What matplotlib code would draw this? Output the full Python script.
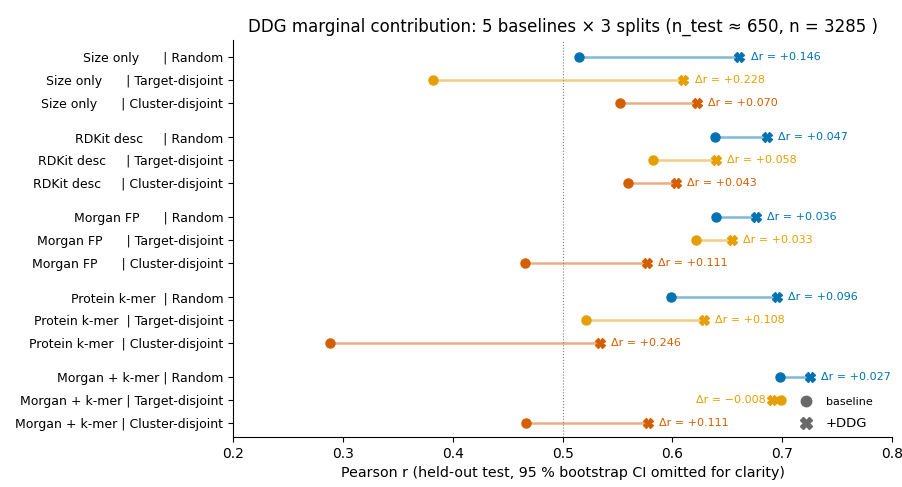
import numpy as np
import matplotlib.pyplot as plt

# Pearson r per baseline feature set and split, without and with DDG
baselines = ['Size only', 'RDKit desc', 'Morgan FP', 'Protein k-mer', 'Morgan + k-mer']
splits = ['Random', 'Target-disjoint', 'Cluster-disjoint']
r_base = [
    [0.515, 0.382, 0.552],
    [0.639, 0.582, 0.560],
    [0.640, 0.621, 0.466],
    [0.599, 0.521, 0.288],
    [0.698, 0.699, 0.467],
]
r_ddg = [
    [0.661, 0.610, 0.622],
    [0.686, 0.640, 0.603],
    [0.676, 0.654, 0.577],
    [0.695, 0.629, 0.534],
    [0.725, 0.691, 0.578],
]
split_colors = ['#0072B2', '#E69F00', '#D55E00']

fig = plt.figure(figsize=(9.03, 4.87), dpi=100)
ax = fig.add_axes([0.258, 0.103, 0.73, 0.815])

yticks = []
ylabels = []
for g, name in enumerate(baselines):
    for i, split in enumerate(splits):
        y = g * 3.5 + i
        b = r_base[g][i]
        d = r_ddg[g][i]
        c = split_colors[i]
        ax.plot([b, d], [y, y], color=c, alpha=0.5, lw=1.8, zorder=1)
        ax.plot(b, y, 'o', color=c, ms=6.5, zorder=3)
        ax.plot(d, y, 'X', color=c, ms=7, zorder=3)
        delta = round(d - b, 3)
        txt = ('Δr = %+.3f' % delta).replace('-', '\u2212')
        if delta >= 0:
            ax.annotate(txt, (max(b, d), y), xytext=(8, 0), textcoords='offset points',
                        ha='left', va='center', fontsize=8, color=c)
        else:
            ax.annotate(txt, (min(b, d), y), xytext=(-5, 0), textcoords='offset points',
                        ha='right', va='center', fontsize=8, color=c)
        yticks.append(y)
        ylabels.append('%-14s | %s' % (name, split))

ax.axvline(0.5, color='grey', ls=':', lw=0.8, zorder=0)

ax.set_yticks(yticks)
ax.set_yticklabels(ylabels, fontsize=9)
ax.set_ylim(16.6, -0.75)
ax.set_xlim(0.2, 0.8)
ax.tick_params(axis='x', labelsize=10)
ax.set_xlabel('Pearson r (held-out test, 95 % bootstrap CI omitted for clarity)', fontsize=10.3)
ax.set_title('DDG marginal contribution: 5 baselines \u00d7 3 splits (n_test \u2248 650, n = 3285 )',
             fontsize=12)

ax.plot([], [], 'o', color='dimgrey', ms=7.5, ls='none', label='baseline')
ax.plot([], [], 'X', color='dimgrey', ms=8, ls='none', label='+DDG')
leg = ax.legend(loc='lower right', bbox_to_anchor=(0.985, -0.008), frameon=False,
                fontsize=8, labelspacing=0.9)
leg.get_texts()[1].set_fontsize(9.5)

ax.spines['top'].set_visible(False)
ax.spines['right'].set_visible(False)

plt.savefig('out.png')
